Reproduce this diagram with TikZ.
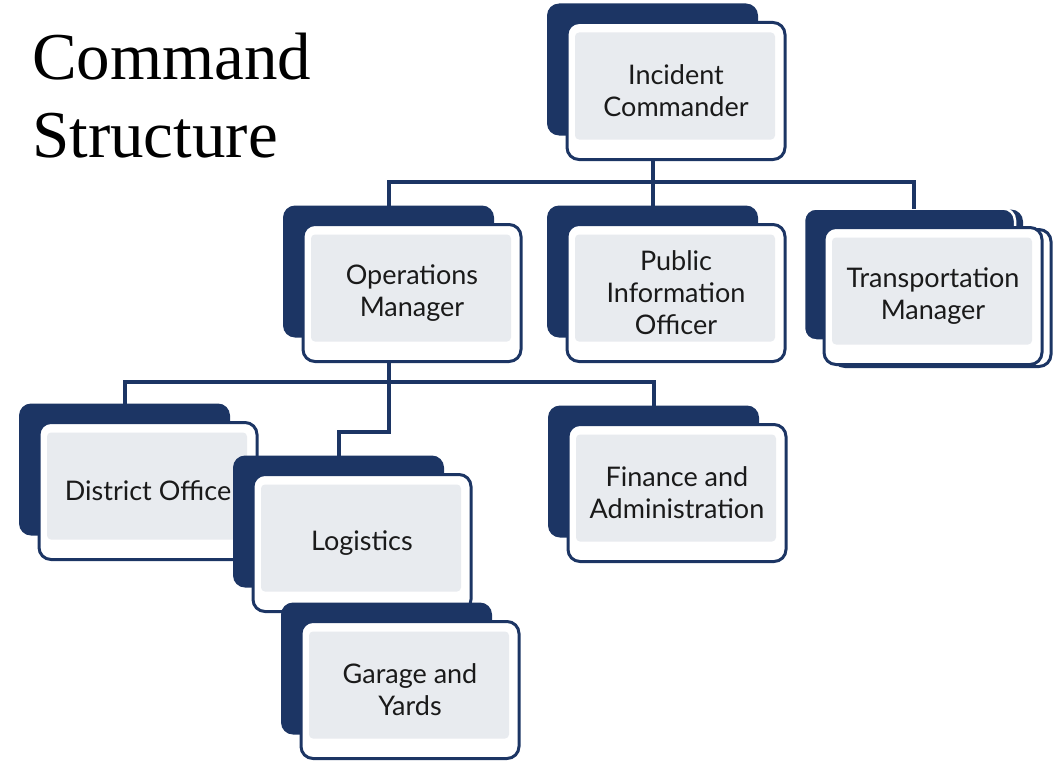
\documentclass[tikz,border=0pt]{standalone}
\usepackage{fontspec}
\setmainfont{Liberation Serif}
\newfontfamily\boxfont{Lato}
\definecolor{navy}{HTML}{1C3564}
\definecolor{boxgray}{HTML}{E8EBEF}
\definecolor{ink}{HTML}{1A1A1A}
\tikzset{
 backbox/.style={fill=navy, rounded corners=12pt, minimum width=211pt, minimum height=132pt, inner sep=0pt, outer sep=0pt},
 frontbox/.style={draw=navy, line width=3pt, fill=white, rounded corners=12pt, minimum width=218pt, minimum height=137pt, inner sep=0pt, align=center, font=\boxfont\fontsize{27}{32}\selectfont, text=ink,
   path picture={\fill[boxgray, rounded corners=4pt] ([shift={(8pt,-10pt)}]path picture bounding box.north west) rectangle ([shift={(-10pt,20pt)}]path picture bounding box.south east);}},
 conn/.style={draw=navy, line width=4pt},
}
\newcommand\orgbox[4]{\node[backbox] (#1b) at (#2-23.5,#3-21.5) {};\node[frontbox] (#1) at (#2,#3) {#4};}
\begin{document}
\begin{tikzpicture}[x=1pt,y=-1pt]
\useasboundingbox (0,0) rectangle (1056,760);
\node[anchor=north west, inner sep=0pt, align=left, text=black, font=\fontsize{67}{78}\selectfont] (title) at (32,33) {Command\\Structure};
\orgbox{ic}{676}{91}{Incident\\Commander}
\orgbox{op}{412}{293}{Operations\\Manager}
\orgbox{pi}{676}{293}{Public\\Information\\Officer}
% transportation (stacked look)
\node[backbox] (tmbx) at (933-23.5+8,296-21.5+1) {};
\node[backbox, draw=white, line width=2.5pt] (tmb) at (933-23.5,296-21.5) {};
\node[frontbox, path picture={}] (tmx) at (933+9,296+2) {};
\node[frontbox] (tm) at (933,296) {Transportation\\Manager};
\orgbox{do}{148}{491}{District Office}
\orgbox{lg}{362}{543}{Logistics}
\orgbox{ga}{410}{690}{Garage and\\Yards}
\orgbox{fa}{677}{493}{Finance and\\Administration}
\coordinate (bus1) at (0,182);
\coordinate (bus2) at (0,382);
\coordinate (bus3) at (0,432);
\draw[conn] (icb.center |- ic.south) -- (icb.center |- bus1);
\draw[conn] (opb.north) -- (opb.north |- bus1) -- ([xshift=4pt]tmb.north |- bus1) -- ([xshift=4pt]tmb.north);
\draw[conn] (pib.north) -- (pib.north |- bus1);
\draw[conn] (opb.center |- op.south) -- (opb.center |- bus3) -- (lgb.north |- bus3) -- (lgb.north);
\draw[conn] (dob.north) -- (dob.north |- bus2) -- (fab.north |- bus2) -- (fab.north);
\end{tikzpicture}
\end{document}
